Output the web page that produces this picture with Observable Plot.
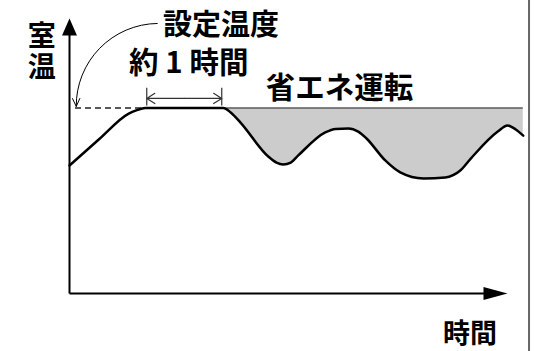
<!DOCTYPE html>
<html><head><meta charset="utf-8">
<script src="https://cdn.jsdelivr.net/npm/d3@7"></script>
<script src="https://cdn.jsdelivr.net/npm/@observablehq/plot@0.6"></script>
<style>html,body{margin:0;padding:0;background:#fff} svg{display:block}</style>
</head><body><div id="chart"></div>
<script>
// Room temperature over time (arbitrary units: hours, temperature index)
const time = [0, 0.39, 0.79, 0.89, 1.01, 2.05, 2.15, 2.28, 2.65, 2.76, 2.85, 2.95, 3.05, 3.41, 3.55, 3.72, 3.85, 3.96, 4.21, 4.41, 4.72, 5.01, 5.21, 5.35, 5.71, 5.84, 5.95, 6.05];
const temp = [4.83, 5.81, 6.79, 6.91, 7.0, 7.0, 6.83, 6.45, 5.17, 4.94, 4.87, 4.94, 5.21, 6.08, 6.21, 6.23, 6.11, 5.85, 5.02, 4.57, 4.34, 4.38, 4.64, 5.09, 6.11, 6.34, 6.19, 5.96];
const setpoint = 7;
const ecoStartIndex = 5;          // saving mode starts after the plateau
const hourStart = 1.03, hourEnd = 2.03;  // "約 1 時間" bracket
const xMax = 5.84, yMax = 10.38;  // axis arrow tips
const labels = ["設定温度", "約 1 時間", "省エネ運転", "時間", "室温"];
const yLabelPos = {x: -0.37, y: 10.28};

const curve = time.map((t, i) => ({t, v: temp[i]}));
const eco = curve.slice(ecoStartIndex);

const font = "'Noto Sans CJK JP', 'Noto Sans', sans-serif";
const arrowUp = {draw(ctx){ ctx.moveTo(0,0); ctx.lineTo(7.5,17); ctx.lineTo(-7.5,17); ctx.closePath(); }};
const arrowRight = {draw(ctx){ ctx.moveTo(0,0); ctx.lineTo(-24,6.5); ctx.lineTo(-24,-6.5); ctx.closePath(); }};

const chart = Plot.plot({
  width: 542, height: 351,
  margin: 0,
  x: {domain: [0, 6], range: [69, 519], axis: null},
  y: {domain: [0, 11], range: [293, 1.5], axis: null},
  style: {background: "white", fontFamily: font},
  marks: [
    // shaded energy-saving area
    Plot.areaY(eco, {x: "t", y1: setpoint, y2: "v", fill: "#cccccc", curve: "monotone-x"}),
    // setpoint line (solid over saving area, dashed before plateau)
    Plot.ruleY([setpoint], {x1: time[ecoStartIndex], x2: time[time.length-1], stroke: "#222", strokeWidth: 1.2}),
    Plot.ruleY([setpoint], {x1: 0.08, x2: time[4], stroke: "#222", strokeWidth: 1.5, strokeDasharray: "6,4"}),
    // temperature curve
    Plot.line(curve, {x: "t", y: "v", stroke: "black", strokeWidth: 2.5, curve: "monotone-x"}),
    // axes
    Plot.link([{x1: 0, y1: 0, x2: 0, y2: yMax - 0.5}], {x1: "x1", y1: "y1", x2: "x2", y2: "y2", stroke: "black", strokeWidth: 2}),
    Plot.link([{x1: 0, y1: 0, x2: xMax - 0.25, y2: 0}], {x1: "x1", y1: "y1", x2: "x2", y2: "y2", stroke: "black", strokeWidth: 2}),
    Plot.dot([{x: 0, y: yMax}], {x: "x", y: "y", symbol: arrowUp, fill: "black", stroke: "none"}),
    Plot.dot([{x: xMax, y: 0}], {x: "x", y: "y", symbol: arrowRight, fill: "black", stroke: "none"}),
    // right border
    Plot.ruleX([6.127], {y1: 11.1, y2: -2.3, stroke: "#666", strokeWidth: 2}),
    // curved arrow from 設定温度 to setpoint
    Plot.arrow([{x1: 1.17, y1: 10.19, x2: 0.09, y2: 7.06}], {x1: "x1", y1: "y1", x2: "x2", y2: "y2", bend: -45, stroke: "black", strokeWidth: 1, headLength: 13, headAngle: 50}),
    // 1-hour bracket
    Plot.ruleX([hourStart, hourEnd], {y1: 7.08, y2: 7.75, stroke: "#333", strokeWidth: 1.2}),
    Plot.arrow([{a: (hourStart+hourEnd)/2, b: hourStart}, {a: (hourStart+hourEnd)/2, b: hourEnd}], {x1: "a", x2: "b", y1: 7.36, y2: 7.36, stroke: "#333", strokeWidth: 1.2, headLength: 12, headAngle: 65}),
    // labels
    Plot.text([labels[0]], {x: 2.02, y: 10.11, text: d => d, fontSize: 29, fontWeight: "bold", fill: "black"}),
    Plot.text([labels[1]], {x: 1.59, y: 8.66, text: d => d, fontSize: 29.5, fontWeight: "bold", fill: "black"}),
    Plot.text([labels[2]], {x: 3.6, y: 7.74, text: d => d, fontSize: 29.5, fontWeight: "bold", fill: "black"}),
    Plot.text([labels[3]], {x: 5.34, y: -1.55, text: d => d, fontSize: 27, fontWeight: "bold", fill: "black"}),
    Plot.text([labels[4]], {x: yLabelPos.x, y: yLabelPos.y, text: d => d, fontSize: 28, fontWeight: "bold", fill: "black", textAnchor: "start"})
  ]
});
// draw the y-axis label vertically (top-to-bottom), as in the reference
const px = chart.scale("x").apply(yLabelPos.x), py = chart.scale("y").apply(yLabelPos.y);
d3.select(chart).selectAll("text").filter(function() { return this.textContent === labels[4]; })
  .attr("dy", null).attr("x", null).attr("y", null)
  .attr("transform", `translate(${px},${py})`)
  .attr("text-anchor", "start")
  .style("writing-mode", "vertical-rl")
  .style("text-orientation", "upright")
  .style("letter-spacing", "3px");
document.getElementById("chart").append(chart);
</script>
</body></html>
